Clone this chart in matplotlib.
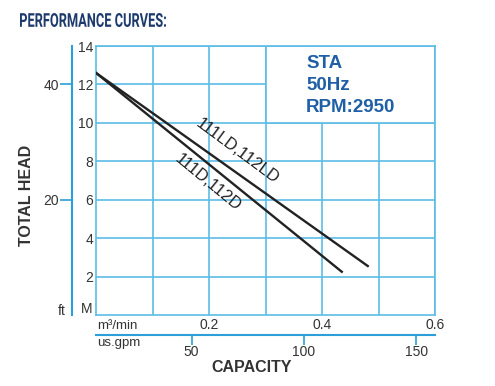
import numpy as np
import matplotlib.pyplot as plt
from matplotlib.patches import Rectangle, PathPatch
from matplotlib.textpath import TextPath
from matplotlib.font_manager import FontProperties
from matplotlib.transforms import Affine2D, IdentityTransform

# capacity (m3/min) vs total head (m)
ld_flow = [0, 0.481]
ld_head = [12.6, 2.55]
d_flow = [0, 0.435]
d_head = [12.6, 2.25]

head_ticks = [2, 4, 6, 8, 10, 12, 14]
ft_ticks = [20, 40]
flow_ticks = [0.2, 0.4, 0.6]
flow_grid = [0.1, 0.3, 0.5]
gpm_ticks = [50, 100, 150]

FT_TO_M = 0.3  # as drawn on the chart
GPM_SCALE, GPM_OFFSET = 251.3, 7.5  # gpm scale as printed (slightly offset)

GRID = '#5cbce8'
AXIS = '#2b9fd9'
BLUE = '#1f5fa6'
NAVY = '#1c3a6c'
INK = '#222222'

plt.rcParams['font.family'] = ['Liberation Sans', 'DejaVu Sans']

W, H = 495, 386
fig = plt.figure(figsize=(W / 100, H / 100), dpi=100)
ax = fig.add_axes([96 / W, 71 / H, 339 / W, 269 / H])
ax.set_xlim(0, 0.6)
ax.set_ylim(0, 14)


def px(x, y):
    return x / W, 1 - y / H


# grid
ax.set_xticks(flow_ticks)
ax.set_xticks(flow_grid, minor=True)
ax.set_yticks(head_ticks)
ax.grid(which='both', color=GRID, lw=1.2)
ax.set_axisbelow(True)
ax.tick_params(which='both', length=0, labelsize=10, colors='#333333')
ax.tick_params(axis='x', pad=2)
ax.tick_params(axis='y', pad=2)
for s in ax.spines.values():
    s.set_color(GRID)
    s.set_linewidth(1.2)

# white box for the model text
ax.add_patch(Rectangle((0.3, 10), 0.3, 4, facecolor='white', edgecolor=GRID,
                       lw=1.2, zorder=1.5))

# curves
ax.plot(ld_flow, ld_head, color=INK, lw=1.7, zorder=3)
ax.plot(d_flow, d_head, color=INK, lw=1.7, zorder=3)
ax.text(0.25, 8.54, '111LD,112LD', rotation=-36.5, rotation_mode='anchor',
        ha='center', va='center', fontsize=12, color=INK, zorder=4)
ax.text(0.198, 6.87, '111D,112D', rotation=-39.5, rotation_mode='anchor',
        ha='center', va='center', fontsize=12, color=INK, zorder=4)

# ft axis
ft_ax = ax.secondary_yaxis(-24 / 339, functions=(lambda m: m / FT_TO_M,
                                                 lambda f: f * FT_TO_M))
ft_ax.set_yticks(ft_ticks)
ft_ax.tick_params(direction='out', length=8.5, width=1.2, color=AXIS,
                  labelsize=10, labelcolor='#333333', pad=1)
ft_ax.spines['left'].set_color(AXIS)
ft_ax.spines['left'].set_linewidth(1.5)

# gpm axis
gpm_ax = ax.secondary_xaxis(-20 / 269,
                            functions=(lambda q: q * GPM_SCALE + GPM_OFFSET,
                                       lambda g: (g - GPM_OFFSET) / GPM_SCALE))
gpm_ax.set_xticks(gpm_ticks)
gpm_ax.tick_params(direction='out', length=7, width=1.2, color=AXIS,
                   labelsize=10, labelcolor='#333333', pad=0)
gpm_ax.spines['bottom'].set_color(AXIS)
gpm_ax.spines['bottom'].set_linewidth(1.5)

# labels
fig.text(*px(62, 311), 'ft', ha='center', va='center', fontsize=10, color='#333333')
fig.text(*px(87, 309), 'M', ha='center', va='center', fontsize=10, color='#333333')
fig.text(*px(97, 326), 'm³/min', ha='left', va='center', fontsize=9.5, color='#333333')
fig.text(*px(97, 343), 'us.gpm', ha='left', va='center', fontsize=9.5, color='#333333')
fig.text(*px(252, 367), 'CAPACITY', ha='center', va='center', fontsize=11.5,
         fontweight='bold', color='#333333')
fig.text(*px(27, 195), 'TOTAL HEAD', ha='center', va='center', rotation=90,
         fontsize=11.5, fontweight='bold', color='#333333')

# condensed title: squeeze a bold text path to the printed width
tp = TextPath((0, 0), 'PERFORMANCE CURVES:', size=1,
              prop=FontProperties(family='Roboto', weight='bold'))
ext = tp.get_extents()
sx = 146 / ext.width
sy = 14 / ext.height
title_tf = Affine2D().translate(-ext.x0, -ext.y0).scale(sx, sy).translate(20, H - 27)
fig.patches.append(PathPatch(tp, transform=title_tf + IdentityTransform(),
                             facecolor=NAVY, edgecolor='none', figure=fig))

for y, s in zip([63, 86, 107], ['STA', '50Hz', 'RPM:2950']):
    fig.text(*px(306, y), s, ha='left', va='center', fontsize=13.5,
             fontweight='bold', color=BLUE)

fig.savefig('out.png', dpi=100)
